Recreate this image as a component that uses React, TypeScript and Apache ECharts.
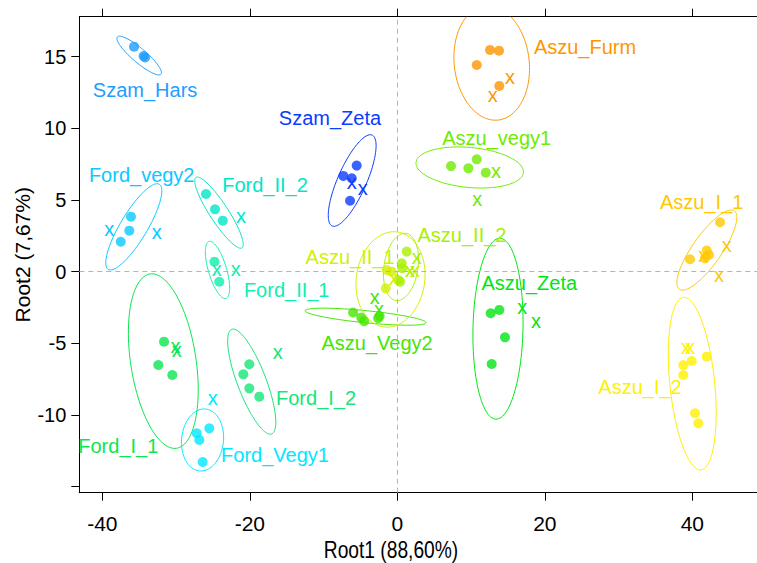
import { useEffect, useRef } from "react";
import * as echarts from "echarts";

// ---------------- data ----------------
const groupNames = [
  "Szam_Hars", "Szam_Zeta", "Ford_vegy2", "Ford_II_2", "Ford_II_1", "Ford_I_1", "Ford_I_2", "Ford_Vegy1",
  "Aszu_Vegy2", "Aszu_II_1", "Aszu_II_2", "Aszu_Zeta", "Aszu_vegy1", "Aszu_Furm", "Aszu_I_1", "Aszu_I_2",
];
const groupColors = [
  "#1E9EFF", "#0A3CFF", "#0AC8FF", "#00E6C8", "#10EEB0", "#0AE650", "#14E678", "#00E8FF",
  "#46E600", "#D2F000", "#A8F000", "#00E614", "#6EEB00", "#FF9600", "#FFC800", "#FFF000",
];

// group centroids (filled dots), per group
const ptsSzamHars = [[-35.7, 15.7], [-34.4, 15.05], [-34.2, 14.95]];
const ptsSzamZeta = [[-5.51, 7.4], [-7.32, 6.68], [-6.18, 6.52], [-6.41, 4.95]];
const ptsFordVegy2 = [[-36.11, 3.84], [-36.34, 2.86], [-37.5, 2.09]];
const ptsFordII2 = [[-25.94, 5.42], [-24.72, 4.35], [-23.67, 3.56]];
const ptsFordII1 = [[-24.79, 0.7], [-24.14, -0.7]];
const ptsFordI1 = [[-31.63, -4.88], [-32.41, -6.51], [-30.51, -7.21]];
const ptsFordI2 = [[-20.07, -6.46], [-20.88, -7.16], [-20.07, -8.14], [-18.71, -8.72]];
const ptsFordVegy1 = [[-25.49, -10.93], [-27.2, -11.27], [-26.85, -11.74], [-26.39, -13.28]];
const ptsAszuVegy2 = [[-6.0, -2.85], [-4.9, -3.2], [-4.5, -3.45], [-2.6, -3.25], [-2.4, -3.1]];
const ptsAszuII1 = [[-1.44, 0.12], [-0.76, 0.0], [-1.57, -1.16]];
const ptsAszuII2 = [[1.27, 1.4], [0.6, 0.59], [0.68, 0.24], [0.14, -0.58], [0.37, -0.7]];
const ptsAszuZeta = [[12.66, -2.9], [13.83, -2.67], [14.6, -4.58], [12.8, -6.44]];
const ptsAszuVegy1 = [[7.28, 7.37], [9.63, 7.21], [10.77, 7.84], [11.99, 6.91]];
const ptsAszuFurm = [[12.57, 15.47], [13.79, 15.42], [10.77, 14.42], [13.83, 12.96]];
const ptsAszuI1 = [[43.76, 3.45], [41.95, 1.47], [42.26, 1.17], [41.72, 0.93], [39.69, 0.87]];
const ptsAszuI2 = [[41.95, -5.93], [39.92, -6.23], [38.78, -6.51], [38.78, -7.21], [40.37, -9.88], [40.81, -10.58]];

// "x" marks, per group
const xsSzamHars: number[][] = [];
const xsSzamZeta = [[-6.18, 6.12], [-4.69, 5.7]];
const xsFordVegy2 = [[-39.05, 2.86], [-32.62, 2.68]];
const xsFordII2 = [[-21.19, 3.77]];
const xsFordII1 = [[-24.49, 0.05], [-21.91, 0.05]];
const xsFordI1 = [[-30.07, -5.32], [-29.9, -5.55]];
const xsFordI2 = [[-16.22, -5.74]];
const xsFordVegy1 = [[-25.03, -8.9]];
const xsAszuVegy2 = [[-3.06, -1.86], [-2.48, -2.69]];
const xsAszuII1 = [[-0.45, -0.53], [2.4, 0.0]];
const xsAszuII2 = [[2.63, 0.93], [1.72, 0.0]];
const xsAszuZeta = [[16.95, -2.55], [18.81, -3.53]];
const xsAszuVegy1 = [[13.38, 6.91], [10.85, 4.93]];
const xsAszuFurm = [[15.28, 13.44], [12.94, 12.21]];
const xsAszuI1 = [[44.66, 1.74], [43.62, -0.35], [41.49, 1.05]];
const xsAszuI2 = [[39.15, -5.34], [39.69, -5.34]];

// group label anchor (data units)
const labelX = [-34.2, -9.13, -34.66, -17.94, -15.0, -37.83, -11.02, -16.58, -2.75, -6.41, 8.77, 17.9, 13.48, 25.45, 41.27, 32.91];
const labelY = [12.67, 10.7, 6.75, 6.05, -1.28, -12.16, -8.79, -12.79, -4.97, 1.05, 2.56, -0.81, 9.31, 15.66, 4.88, -8.02];

// confidence ellipses: [centerX, centerY, semiAxis1X, semiAxis1Y, semiAxis2X, semiAxis2Y] (data units)
const ellipses = [
  [-35.0, 15.08, 2.96, -1.3, -0.62, -0.37],
  [-6.12, 6.36, 2.71, 3.17, 1.78, -0.4],
  [-35.73, 3.13, 3.46, 2.97, 1.57, -0.48],
  [-24.18, 4.12, 3.12, -2.46, -1.05, -0.35],
  [-24.38, 0.12, 1.15, -1.99, 1.18, 0.18],
  [-31.73, -6.24, 1.8, -6.08, 4.38, 0.34],
  [-19.74, -7.67, 2.71, -3.65, 1.82, 0.36],
  [-26.41, -11.74, 0.41, 2.16, 2.83, -0.14],
  [-4.31, -3.14, 8.2, -0.42, -0.08, -0.42],
  [-0.92, -0.54, 0.95, 3.31, 4.59, -0.35],
  [0.5, 0.33, 0.68, 2.34, 2.28, -0.17],
  [13.65, -3.98, 0.27, 6.31, 3.39, -0.04],
  [9.82, 7.27, 7.28, -0.35, -0.25, -1.39],
  [12.8, 14.56, 0.89, -3.98, 5.05, 0.3],
  [41.97, 1.51, 3.73, 2.74, 1.62, -0.58],
  [39.99, -7.81, 1.19, -6.02, 3.02, 0.16],
];

const xTicks = [-40, -20, 0, 20, 40];
const yTicks = [-15, -10, -5, 0, 5, 10, 15];
const yTickLabels = [-10, -5, 0, 5, 10, 15];
const xTitle = "Root1 (88,60%)";
const yTitle = "Root2 (7,67%)";

const groupPoints = [
  ptsSzamHars, ptsSzamZeta, ptsFordVegy2, ptsFordII2, ptsFordII1, ptsFordI1, ptsFordI2, ptsFordVegy1,
  ptsAszuVegy2, ptsAszuII1, ptsAszuII2, ptsAszuZeta, ptsAszuVegy1, ptsAszuFurm, ptsAszuI1, ptsAszuI2,
];
const groupXs = [
  xsSzamHars, xsSzamZeta, xsFordVegy2, xsFordII2, xsFordII1, xsFordI1, xsFordI2, xsFordVegy1,
  xsAszuVegy2, xsAszuII1, xsAszuII2, xsAszuZeta, xsAszuVegy1, xsAszuFurm, xsAszuI1, xsAszuI2,
];

// ---------------- chart ----------------
const FONT = '"Liberation Sans", Arial, sans-serif';

function buildOption() {
  const series: any[] = [];

  series.push({
    type: "line",
    data: [],
    silent: true,
    markLine: {
      silent: true,
      symbol: ["none", "none"],
      label: { show: false },
      lineStyle: { color: "#B4B4B4", type: [5, 4], width: 1 },
      data: [{ xAxis: 0 }, { yAxis: 0 }],
    },
  });

  groupPoints.forEach((pts, i) => {
    series.push({
      type: "scatter",
      name: groupNames[i],
      data: pts,
      symbol: "circle",
      symbolSize: 10,
      silent: true,
      itemStyle: { color: groupColors[i] },
      z: 3,
    });
  });

  const xData: number[][] = [];
  groupXs.forEach((xs, i) => xs.forEach((p) => xData.push([p[0], p[1], i])));
  series.push({
    type: "custom",
    data: xData,
    silent: true,
    z: 4,
    renderItem: (_params: any, api: any) => {
      const c = api.coord([api.value(0), api.value(1)]);
      return {
        type: "text",
        x: c[0],
        y: c[1] - 1.7,
        style: {
          text: "x",
          fill: groupColors[api.value(2)],
          font: "20px " + FONT,
          align: "center",
          verticalAlign: "middle",
        },
      };
    },
  });

  series.push({
    type: "custom",
    data: ellipses,
    clip: true,
    silent: true,
    z: 2,
    renderItem: (params: any, api: any) => {
      const e = ellipses[params.dataIndex];
      const pts: number[][] = [];
      const n = 120;
      for (let k = 0; k <= n; k++) {
        const t = (k / n) * Math.PI * 2;
        pts.push(
          api.coord([
            e[0] + e[2] * Math.cos(t) + e[4] * Math.sin(t),
            e[1] + e[3] * Math.cos(t) + e[5] * Math.sin(t),
          ])
        );
      }
      return {
        type: "polyline",
        shape: { points: pts },
        style: { stroke: groupColors[params.dataIndex], fill: null, lineWidth: 1 },
      };
    },
  });

  series.push({
    type: "custom",
    data: labelX.map((x, i) => [x, labelY[i], i]),
    silent: true,
    z: 5,
    renderItem: (_params: any, api: any) => {
      const i = api.value(2);
      const c = api.coord([api.value(0), api.value(1)]);
      return {
        type: "text",
        x: c[0],
        y: c[1],
        style: {
          text: groupNames[i],
          fill: groupColors[i],
          font: "20px " + FONT,
          align: "center",
          verticalAlign: "middle",
        },
      };
    },
  });

  const axisLine = { show: true, onZero: false, lineStyle: { color: "#000", width: 1 } };

  return {
    animation: false,
    textStyle: { fontFamily: FONT },
    grid: { left: 79.3, top: 16.7, right: 0, height: 476, show: false, containLabel: false },
    xAxis: [
      {
        type: "value",
        min: -43.12,
        max: 48.77,
        position: "bottom",
        axisLine,
        axisTick: { show: true, inside: false, length: 8, customValues: xTicks, lineStyle: { color: "#000" } },
        axisLabel: {
          show: true,
          customValues: xTicks,
          margin: 20,
          color: "#000",
          fontSize: 21,
          fontFamily: FONT,
        },
        splitLine: { show: false },
      },
      {
        type: "value",
        min: -43.12,
        max: 48.77,
        position: "top",
        axisLine,
        axisTick: { show: true, inside: false, length: 8, customValues: xTicks, lineStyle: { color: "#000" } },
        axisLabel: { show: false },
        splitLine: { show: false },
      },
    ],
    yAxis: [
      {
        type: "value",
        min: -15.42,
        max: 17.79,
        position: "left",
        axisLine,
        axisTick: { show: true, inside: false, length: 8, customValues: yTicks, lineStyle: { color: "#000" } },
        axisLabel: {
          show: true,
          customValues: yTickLabels,
          margin: 13,
          color: "#000",
          fontSize: 20,
          fontFamily: FONT,
        },
        splitLine: { show: false },
      },
    ],
    graphic: [
      {
        type: "text",
        x: 391,
        y: 550,
        scaleX: 0.8,
        style: { text: xTitle, font: "24px " + FONT, fill: "#000", align: "center", verticalAlign: "middle" },
      },
      {
        type: "text",
        x: 22,
        y: 254.7,
        rotation: Math.PI / 2,
        style: { text: yTitle, font: "21px " + FONT, fill: "#000", align: "center", verticalAlign: "middle" },
      },
    ],
    series,
  };
}

export default function App() {
  const ref = useRef<HTMLDivElement>(null);
  useEffect(() => {
    document.body.style.margin = "0";
    const chart = echarts.init(ref.current!, null, { renderer: "svg" });
    chart.setOption(buildOption() as any);
    return () => chart.dispose();
  }, []);
  return (
    <div
      ref={ref}
      style={{ position: "fixed", left: 0, top: 0, width: 757, height: 563, background: "#fff" }}
    />
  );
}
